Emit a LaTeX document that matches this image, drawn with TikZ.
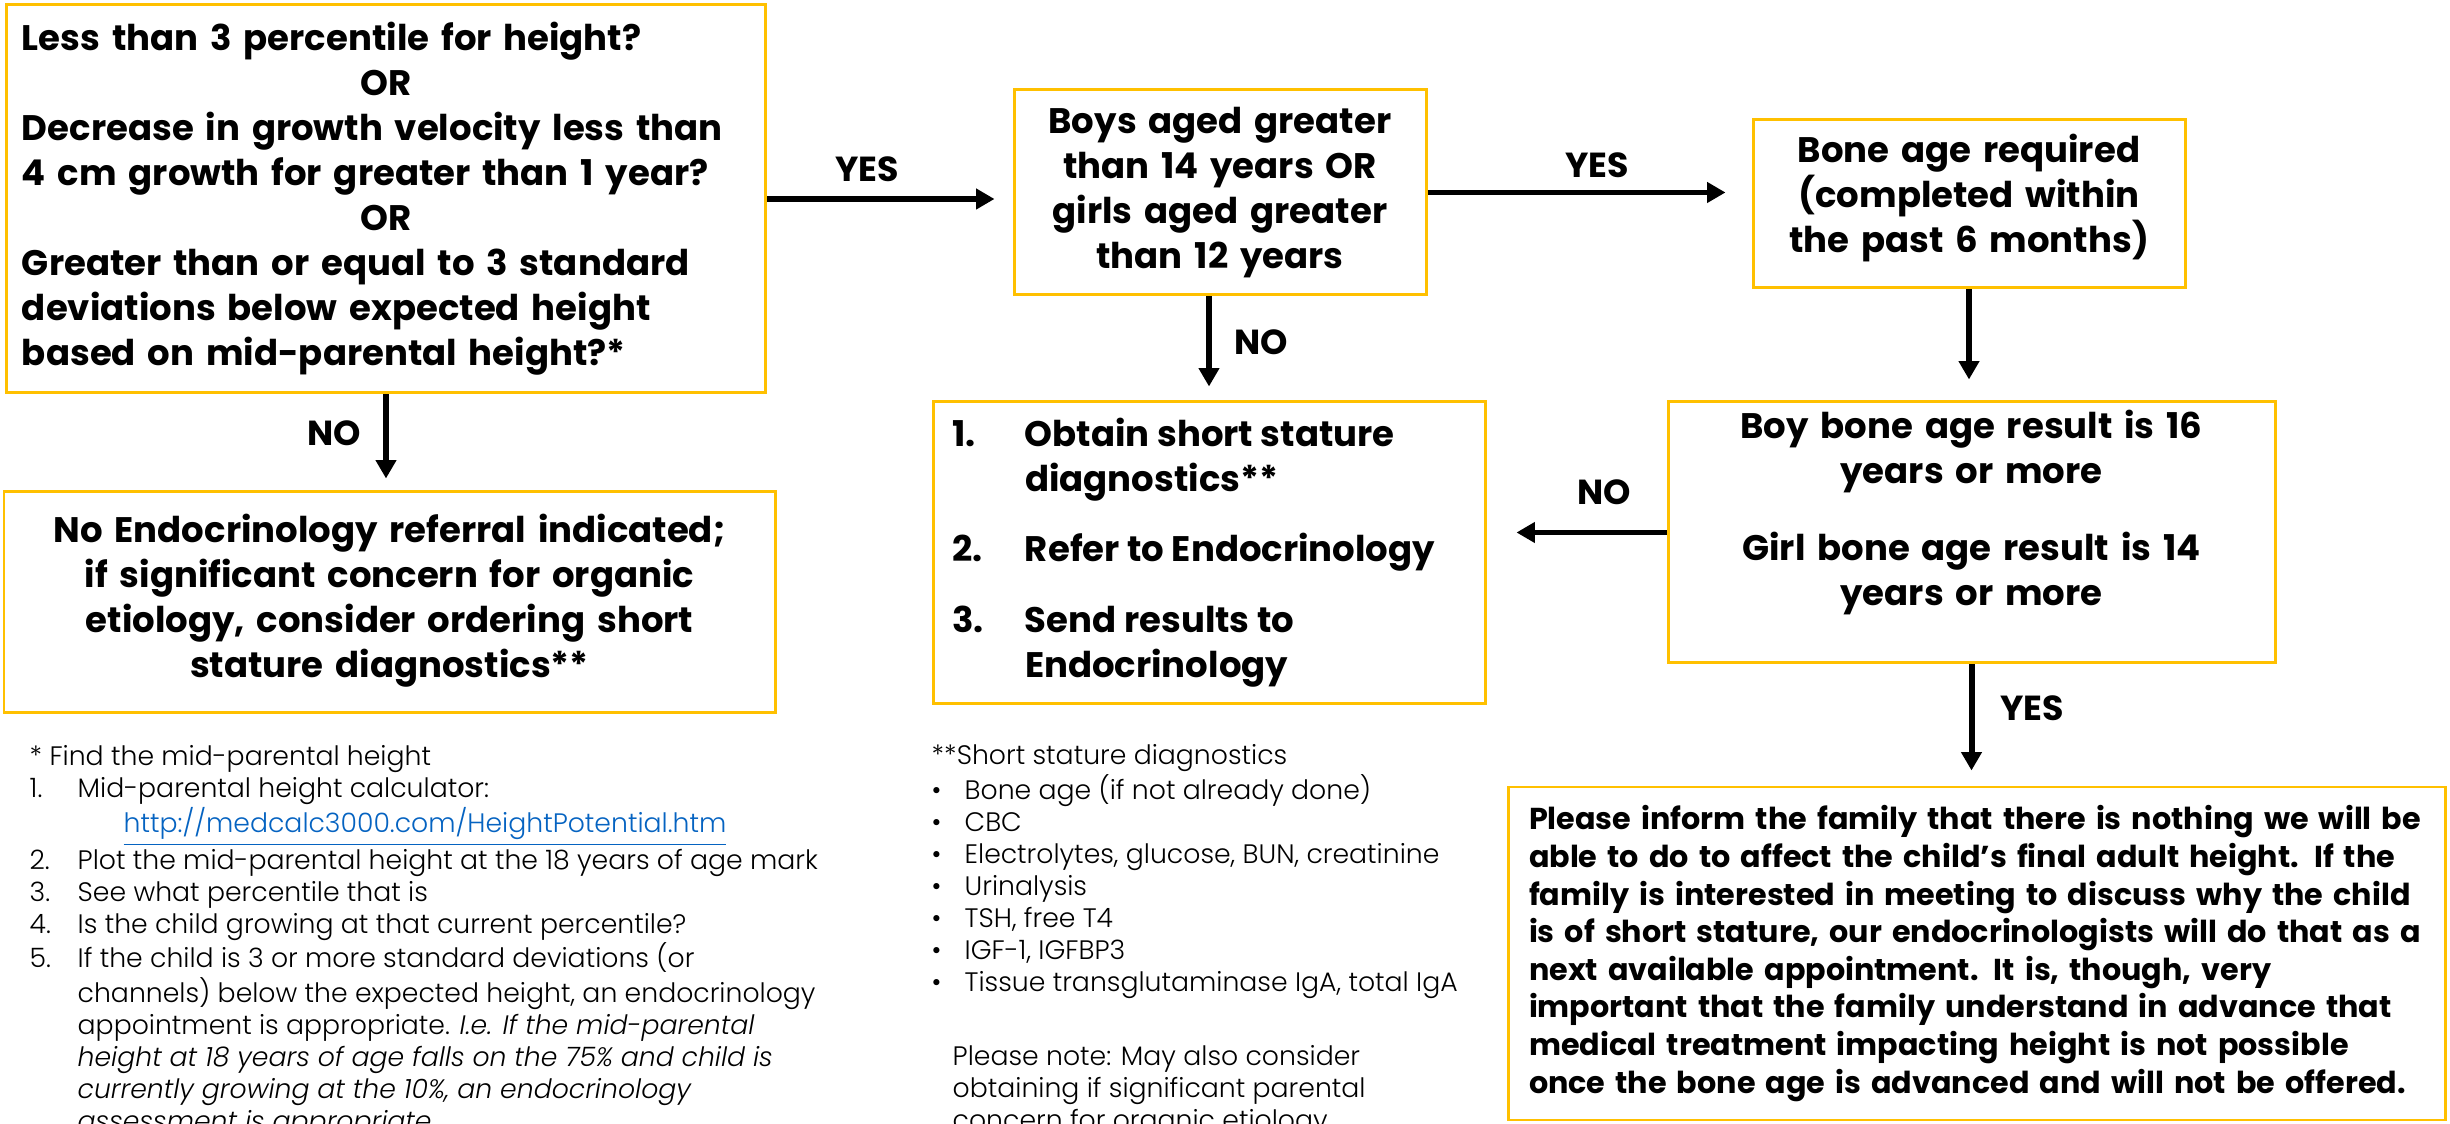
\documentclass[tikz,border=0pt]{standalone}
\usepackage{fontspec}
\setmainfont{Poppins}
\newfontfamily\notefont{Poppins}[UprightFont=* Light, ItalicFont=* Light Italic]
\usepackage{tikz}
\usetikzlibrary{arrows.meta}
\definecolor{boxgold}{RGB}{255,192,0}
\definecolor{linkblue}{RGB}{5,99,193}
\newcommand{\orline}{\makebox[\linewidth]{OR}}
\newcommand{\lowerby}[1]{\rule[-#1]{0pt}{0pt}}

\begin{document}
\begin{tikzpicture}[>={Triangle[length=5.2pt,width=5.6pt]},
  box/.style={draw=boxgold, line width=0.85pt, inner sep=0pt,
    font=\fontsize{10.1}{12.8}\selectfont\bfseries},
  arr/.style={->, line width=1.7pt},
  lbl/.style={font=\fontsize{9.9}{11}\selectfont\bfseries},
  note/.style={inner sep=0pt, font=\notefont\fontsize{7.6}{9.1}\selectfont}]

\useasboundingbox (0,0) rectangle (24.5,-11.24);

% Caixes
\node[box, align=left, text width=7.28cm, minimum width=7.59cm, minimum height=3.88cm]
  (crit) at (3.86,-1.99) {Less than 3 percentile for height?\\ \orline\\
  Decrease in growth velocity less than\\ 4 cm growth for greater than 1 year?\\ \orline\\
  Greater than or equal to 3 standard\\ deviations below expected height\\
  based on mid-parental height?*};

\node[box, align=center, text width=4.0cm, minimum width=4.12cm, minimum height=2.05cm]
  (age) at (12.20,-1.925) {Boys aged greater\\ than 14 years OR\\ girls aged greater\\ than 12 years};

\node[box, align=center, text width=4.1cm, minimum width=4.32cm, minimum height=1.68cm]
  (bone) at (19.69,-2.04) {Bone age required\\ (completed within\\ the past 6 months)\lowerby{6pt}};

\node[box, minimum width=5.52cm, minimum height=3.02cm]
  (refer) at (12.09,-5.53) {\begin{tabular}{@{}p{0.73cm}@{}p{4.41cm}@{}}
  1. & Obtain short stature\\ & diagnostics**\\[7pt]
  2. & Refer to Endocrinology\\[7.5pt]
  3. & Send results to\\ & Endocrinology
  \end{tabular}};

\node[box, align=center, text width=5.9cm, minimum width=6.07cm, minimum height=2.61cm]
  (result) at (19.715,-5.325) {Boy bone age result is 16\\ years or more\\[9pt]
  Girl bone age result is 14\\ years or more\lowerby{14pt}};

\node[box, align=center, text width=7.4cm, minimum width=7.71cm, minimum height=2.21cm]
  (noref) at (3.895,-6.025) {No Endocrinology referral indicated;\\
  if significant concern for organic\\ etiology, consider ordering short\\
  stature diagnostics**\lowerby{4pt}};

\node[box, align=left, text width=8.95cm, minimum width=9.37cm, minimum height=3.33cm,
  font=\fontsize{8.6}{10.7}\selectfont\bfseries]
  (inform) at (19.765,-9.535) {Please inform the family that there is nothing we will be\\
  able to do to affect the child's final adult height. If the\\
  family is interested in meeting to discuss why the child\\
  is of short stature, our endocrinologists will do that as a\\
  next available appointment. It is, though, very\\
  important that the family understand in advance that\\
  medical treatment impacting height is not possible\\
  once the bone age is advanced and will not be offered.};

% Fletxes
\draw[arr, shorten >=0.18cm] (crit.east) -- (crit.east -| age.west);
\draw[arr, shorten >=0.26cm] (age.east) -- (age.east -| bone.west);
\draw[arr, shorten >=0.14cm] (age.south -| refer.north) -- (refer.north);
\draw[arr, shorten >=0.21cm] (bone.south) -- (bone.south |- result.north);
\draw[arr, shorten >=0.30cm] (result.west) -- (result.west -| refer.east);
\draw[arr, shorten >=0.15cm] (result.south) -- (result.south |- inform.north);
\draw[arr, shorten >=0.12cm] (crit.south) -- (crit.south |- noref.north);

% Etiquetes
\node[lbl] (yesa) at (8.67,-1.69) {YES};
\node[lbl] (yesb) at (15.97,-1.65) {YES};
\node[lbl] (noa) at (3.34,-4.33) {NO};
\node[lbl] (nob) at (12.61,-3.42) {NO};
\node[lbl] (noc) at (16.04,-4.92) {NO};
\node[lbl] (yesc) at (20.32,-7.08) {YES};

% Notes
\node[note, anchor=base west] (notea) at (0.29,-7.66) {\begin{tabular}[t]{@{}p{0.48cm}@{}l@{}}
  \multicolumn{2}{@{}l@{}}{* Find the mid-parental height}\\
  1. & Mid-parental height calculator:\\
     & \hspace{0.46cm}\textcolor{linkblue}{\underline{http://medcalc3000.com/HeightPotential.htm}}\\
  2. & Plot the mid-parental height at the 18 years of age mark\\
  3. & See what percentile that is\\
  4. & Is the child growing at that current percentile?\\
  5. & If the child is 3 or more standard deviations (or\\
     & channels) below the expected height, an endocrinology\\
     & appointment is appropriate. \textit{I.e. If the mid-parental}\\
     & \textit{height at 18 years of age falls on the 75\% and child is}\\
     & \textit{currently growing at the 10\%, an endocrinology}\\
     & \textit{assessment is appropriate.}
  \end{tabular}};

\node[note, anchor=base west] (noteb) at (9.31,-7.65) {\begin{tabular}[t]{@{}p{0.33cm}@{}l@{}}
  \multicolumn{2}{@{}l@{}}{**Short stature diagnostics}\\
  \textbullet & Bone age (if not already done)\\
  \textbullet & CBC\\
  \textbullet & Electrolytes, glucose, BUN, creatinine\\
  \textbullet & Urinalysis\\
  \textbullet & TSH, free T4\\
  \textbullet & IGF-1, IGFBP3\\
  \textbullet & Tissue transglutaminase IgA, total IgA\\[12pt]
  \multicolumn{2}{@{\hspace{0.21cm}}l@{}}{Please note: May also consider}\\
  \multicolumn{2}{@{\hspace{0.21cm}}l@{}}{obtaining if significant parental}\\
  \multicolumn{2}{@{\hspace{0.21cm}}l@{}}{concern for organic etiology}
  \end{tabular}};

\end{tikzpicture}
\end{document}
